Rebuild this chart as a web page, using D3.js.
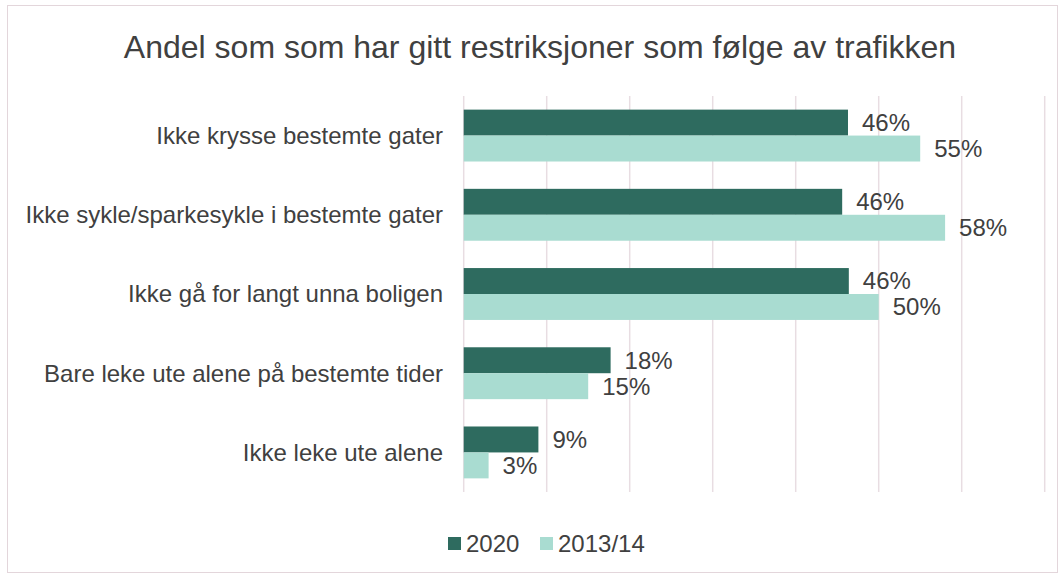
<!DOCTYPE html>
<html><head><meta charset="utf-8">
<script src="https://cdn.jsdelivr.net/npm/d3@7/dist/d3.min.js"></script>
<style>
html,body{margin:0;padding:0;background:#fff;}
svg{display:block;font-family:"Liberation Sans",Arial,sans-serif;}
</style></head>
<body><svg id="c" width="1063" height="579"></svg>
<script>
const title = "Andel som som har gitt restriksjoner som følge av trafikken";
const categories = ["Ikke krysse bestemte gater","Ikke sykle/sparkesykle i bestemte gater","Ikke gå for langt unna boligen","Bare leke ute alene på bestemte tider","Ikke leke ute alene"];
const seriesNames = ["2020","2013/14"];
const values2020 = [46.3, 45.6, 46.4, 17.7, 9.0];
const values2013 = [55, 58, 50, 15, 3];
const labels2020 = ["46%","46%","46%","18%","9%"];
const labels2013 = ["55%","58%","50%","15%","3%"];
const gridTicks = [0,10,20,30,40,50,60,70];
const colors = ["#2e6b5f","#a9dcd1"];

const svg = d3.select("#c");
// border
svg.append("rect").attr("x",7.5).attr("y",5.5).attr("width",1050).attr("height",567)
  .attr("fill","#fff").attr("stroke","#e3d6db").attr("stroke-width",1);

svg.append("text").attr("x",540).attr("y",58).attr("text-anchor","middle")
  .attr("font-size",32).attr("fill","#404040").text(title);

const x = d3.scaleLinear().domain([0,70]).range([463.7,1044.7]);
const y = d3.scaleBand().domain(categories).range([96,492]).paddingInner(0.345).paddingOuter(0.172);
const ySub = d3.scaleBand().domain(seriesNames).range([0,y.bandwidth()]);

// gridlines
svg.append("g").selectAll("line").data(gridTicks).join("line")
  .attr("x1",d=>x(d)).attr("x2",d=>x(d)).attr("y1",96).attr("y2",492)
  .attr("stroke","#e8dde2").attr("stroke-width",1.5);

const series = [
  {name:seriesNames[0], vals:values2020, labels:labels2020, color:colors[0]},
  {name:seriesNames[1], vals:values2013, labels:labels2013, color:colors[1]}
];
series.forEach(s=>{
  const g = svg.append("g");
  g.selectAll("rect").data(categories).join("rect")
    .attr("x",x(0)).attr("y",(c)=>y(c)+ySub(s.name))
    .attr("width",(c,i)=>x(s.vals[i])-x(0)).attr("height",ySub.bandwidth())
    .attr("fill",s.color);
  g.selectAll("text").data(categories).join("text")
    .attr("x",(c,i)=>x(s.vals[i])+14).attr("y",(c)=>y(c)+ySub(s.name)+ySub.bandwidth()/2)
    .attr("dy","0.35em").attr("font-size",24).attr("fill","#404040")
    .text((c,i)=>s.labels[i]);
});

// category axis labels
svg.append("g").selectAll("text").data(categories).join("text")
  .attr("x",443).attr("y",c=>y(c)+y.bandwidth()/2).attr("dy","0.35em")
  .attr("text-anchor","end").attr("font-size",24).attr("fill","#404040").text(c=>c);

// legend
const legend = svg.append("g");
const legX = [448, 540];
seriesNames.forEach((n,i)=>{
  legend.append("rect").attr("x",legX[i]).attr("y",537).attr("width",13).attr("height",13).attr("fill",colors[i]);
  legend.append("text").attr("x",legX[i]+18).attr("y",544).attr("dy","0.35em")
    .attr("font-size",24).attr("fill","#404040").text(n);
});
</script></body></html>
